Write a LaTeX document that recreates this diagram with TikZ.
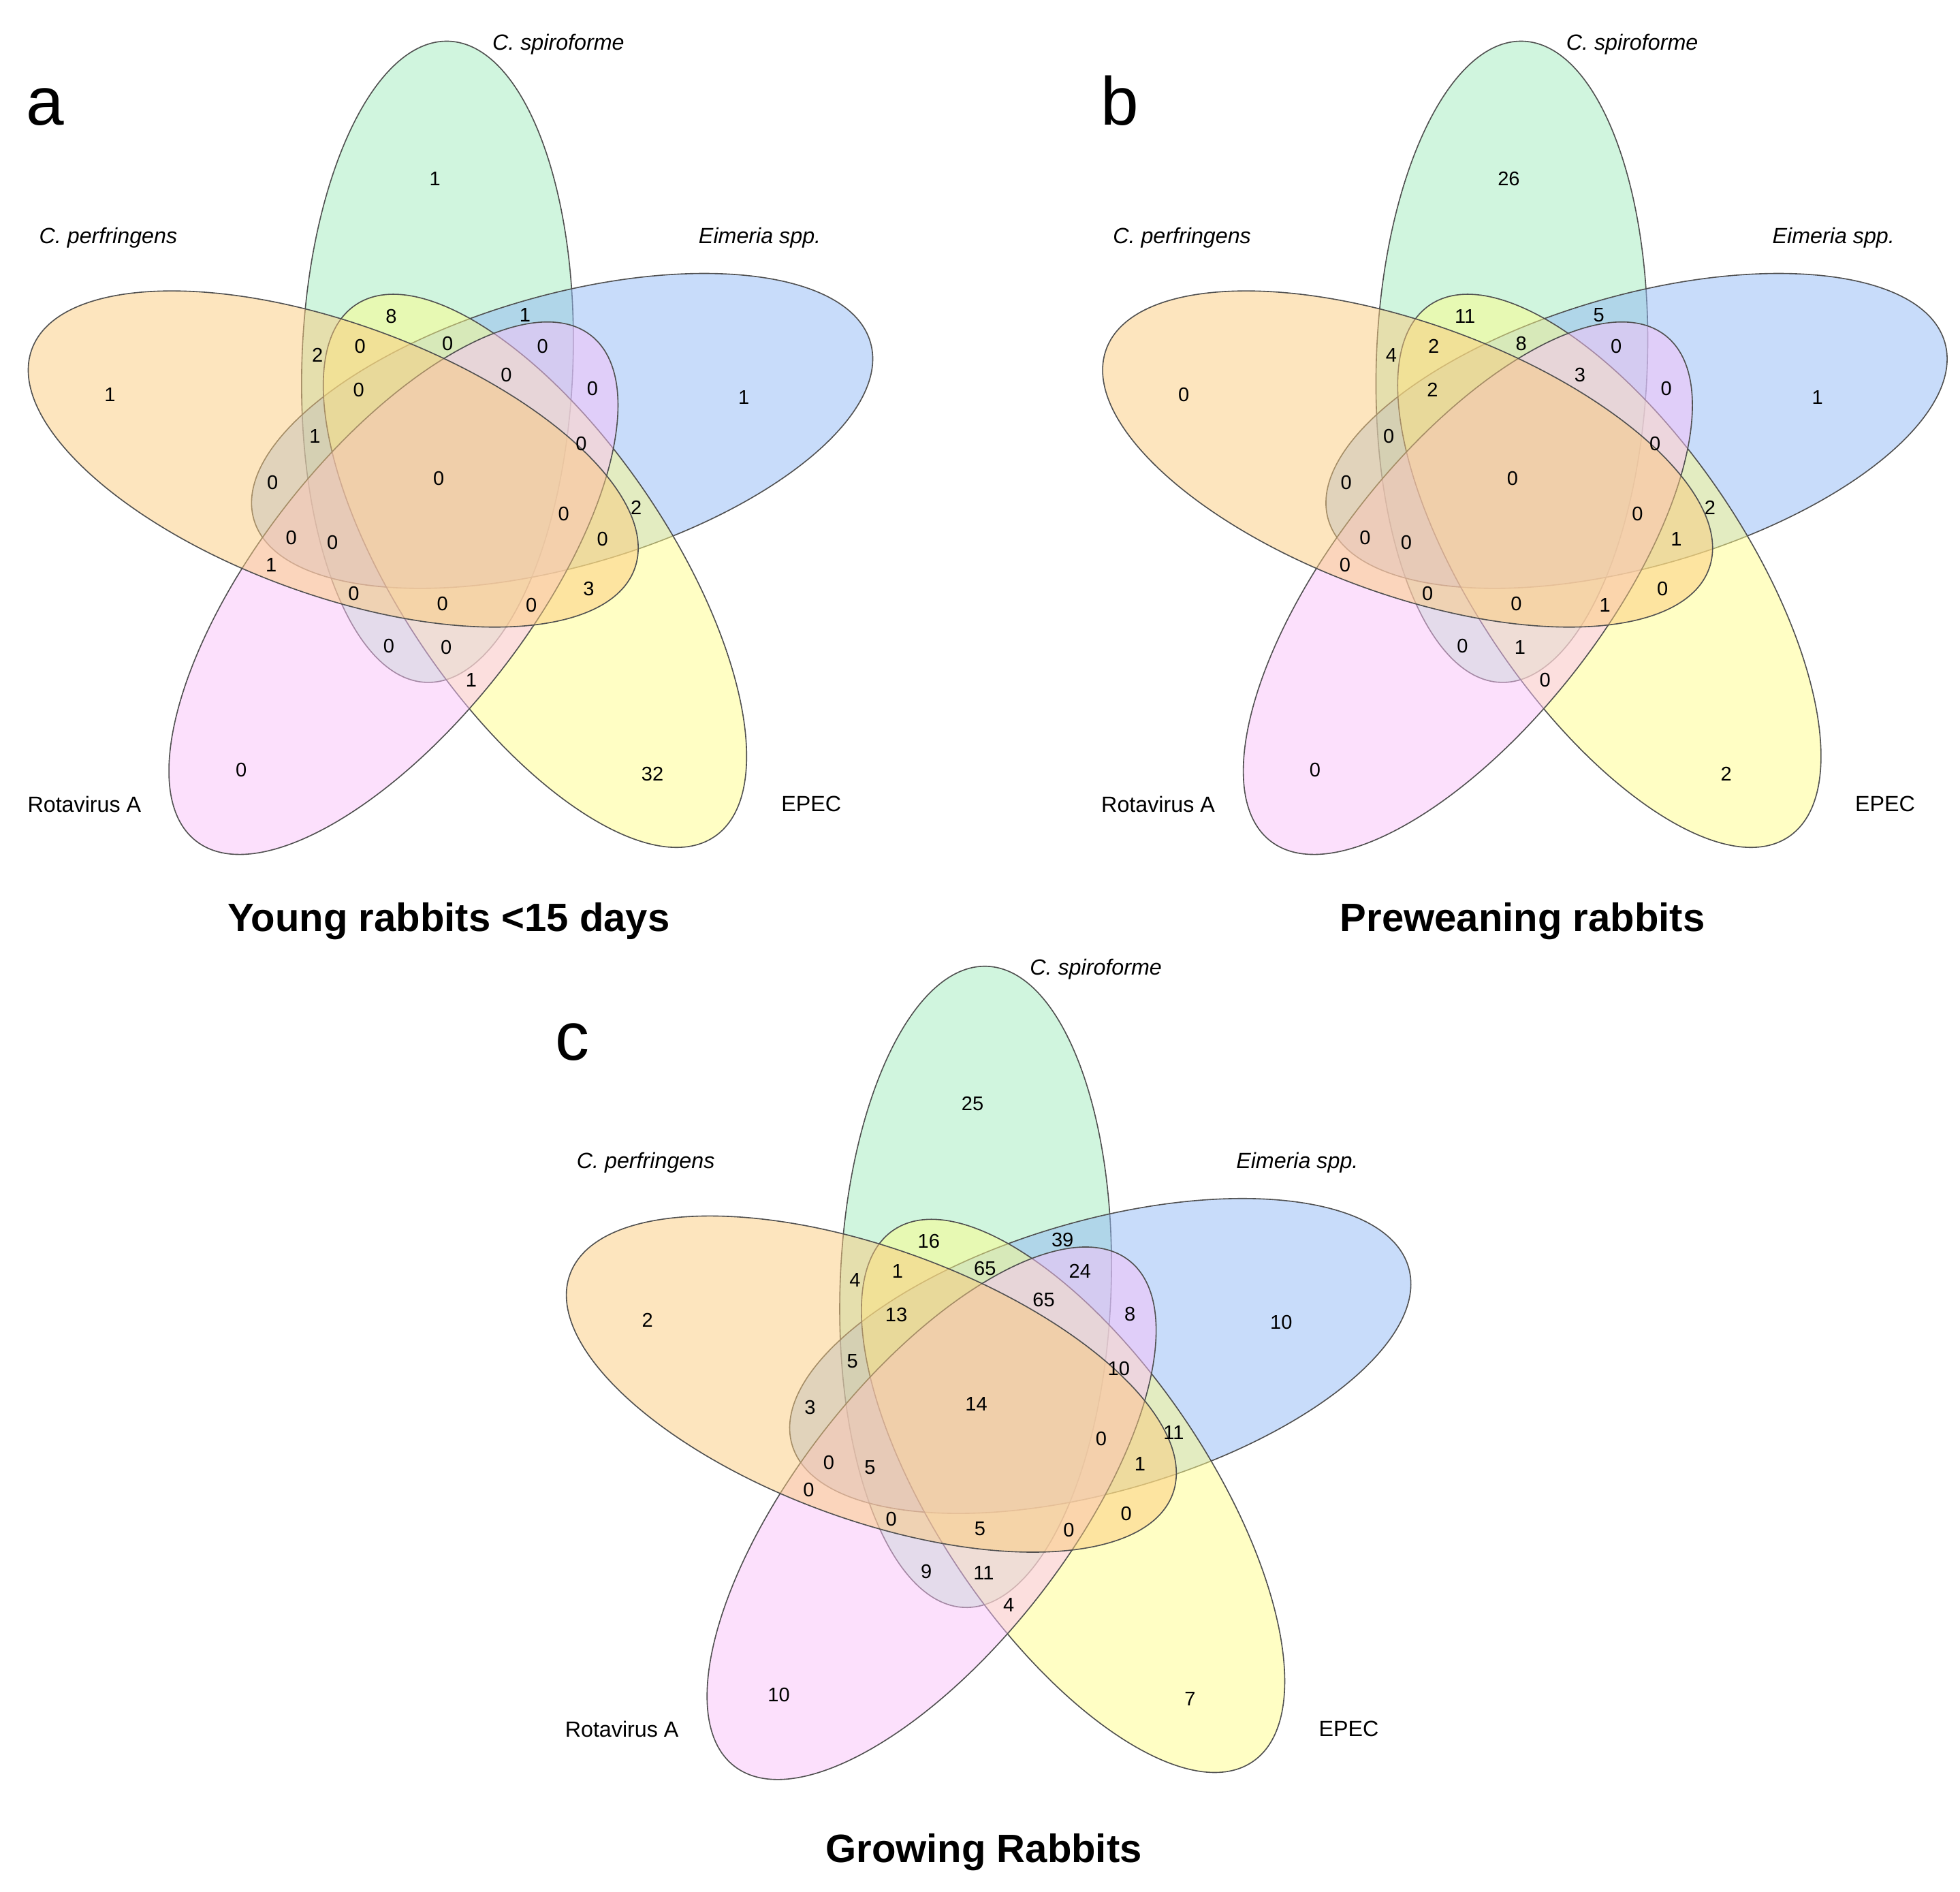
\documentclass[tikz,border=0pt]{standalone}
\usepackage{fontspec}
\setmainfont{Liberation Sans}
\definecolor{vgreen}{RGB}{161,235,189}
\definecolor{vblue}{RGB}{145,185,245}
\definecolor{vyellow}{RGB}{255,253,137}
\definecolor{vpink}{RGB}{249,193,249}
\definecolor{vorange}{RGB}{251,203,125}
\definecolor{vline}{RGB}{80,80,80}
\tikzset{
  setshape/.style={draw=vline, line width=0.5pt, fill opacity=0.5},
  num/.style={font=\fontsize{9}{11}\selectfont, inner sep=0pt, anchor=center},
  setlabel/.style={font=\fontsize{10}{12}\selectfont, inner sep=0pt, anchor=base},
  panelletter/.style={font=\fontsize{31}{36}\selectfont, inner sep=0pt, anchor=base},
  paneltitle/.style={font=\fontsize{18}{22}\selectfont\bfseries, inner sep=0pt, anchor=base},
}
% one set of the five-set diagram: #1 = rotation step (deg), #2 = colour
\newcommand{\vennset}[2]{%
  \filldraw[setshape, fill=#2, rotate=-#1-88, shift={(-9:97)}] (0,0) ellipse (256.6 and 108.4);}
\newcommand{\vennfive}{%
  \vennset{0}{vgreen}\vennset{288}{vblue}\vennset{216}{vyellow}\vennset{144}{vpink}\vennset{72}{vorange}}
\newcommand{\setlabels}[1]{%
  \node[setlabel] (#1spiro) at (446.7,40.1) {\itshape C. spiroforme};
  \node[setlabel] (#1perf) at (86.6,194.9) {\itshape C. perfringens};
  \node[setlabel] (#1eim) at (607.8,194.9) {\itshape Eimeria spp.};
  \node[setlabel] (#1rota) at (67.5,649.5) {Rotavirus A};
  \node[setlabel] (#1epec) at (649,649) {EPEC};}
\begin{document}
\begin{tikzpicture}[x=0.02cm, y=0.02cm]
\begin{scope}[yscale=-1]
\useasboundingbox (0,0) rectangle (1568,1513);
% ---------------- panel a ----------------
\begin{scope}[shift={(361.8,385.7)}] \vennfive \end{scope}
\begin{scope}
  \setlabels{a}
  \foreach \x/\y/\v [count=\i] in {348/143/1, 88/316/1, 595/318/1, 193/616/0, 522/619/32,
    254/284/2, 313/253/8, 420/252/1, 288/277/0, 358/275/0, 434/277/0, 287/312/0,
    405/300/0, 474/311/0, 252/349/1, 465/355/0, 218/386/0, 351/383/0, 509/406/2,
    233/430/0, 266/434/0, 451/411/0, 482/431/0, 217/452/1, 283/475/0, 354/483/0,
    425/484/0, 471/471/3, 311/517/0, 357/518/0, 377/544/1}
    \node[num] (an\i) at (\x,\y) {\v};
\end{scope}
\node[panelletter] (la) at (36,100) {a};
\node[paneltitle] (ta) at (359,745) {Young rabbits <15 days};
% ---------------- panel b ----------------
\begin{scope}[shift={(1221.3,385.7)}] \vennfive \end{scope}
\begin{scope}[shift={(859,0)}]
  \setlabels{b}
  \foreach \x/\y/\v [count=\i] in {348/143/26, 88/316/0, 595/318/1, 193/616/0, 522/619/2,
    254/284/4, 313/253/11, 420/252/5, 288/277/2, 358/275/8, 434/277/0, 287/312/2,
    405/300/3, 474/311/0, 252/349/0, 465/355/0, 218/386/0, 351/383/0, 509/406/2,
    233/430/0, 266/434/0, 451/411/0, 482/431/1, 217/452/0, 283/475/0, 354/483/0,
    425/484/1, 471/471/0, 311/517/0, 357/518/1, 377/544/0}
    \node[num] (bn\i) at (\x,\y) {\v};
\end{scope}
\node[panelletter] (lb) at (896,100) {b};
\node[paneltitle] (tb) at (1218,745) {Preweaning rabbits};
% ---------------- panel c ----------------
\begin{scope}[shift={(792.3,1125.7)}] \vennfive \end{scope}
\begin{scope}[shift={(430,740)}]
  \setlabels{c}
  \foreach \x/\y/\v [count=\i] in {348/143/25, 88/316/2, 595/318/10, 193/616/10, 522/619/7,
    254/284/4, 313/253/16, 420/252/39, 288/277/1, 358/275/65, 434/277/24, 287/312/13,
    405/300/65, 474/311/8, 252/349/5, 465/355/10, 218/386/3, 351/383/14, 509/406/11,
    233/430/0, 266/434/5, 451/411/0, 482/431/1, 217/452/0, 283/475/0, 354/483/5,
    425/484/0, 471/471/0, 311/517/9, 357/518/11, 377/544/4}
    \node[num] (cn\i) at (\x,\y) {\v};
\end{scope}
\node[panelletter] (lc) at (458,848) {c};
\node[paneltitle] (tc) at (787,1490) {Growing Rabbits};
\end{scope}
\end{tikzpicture}
\end{document}
